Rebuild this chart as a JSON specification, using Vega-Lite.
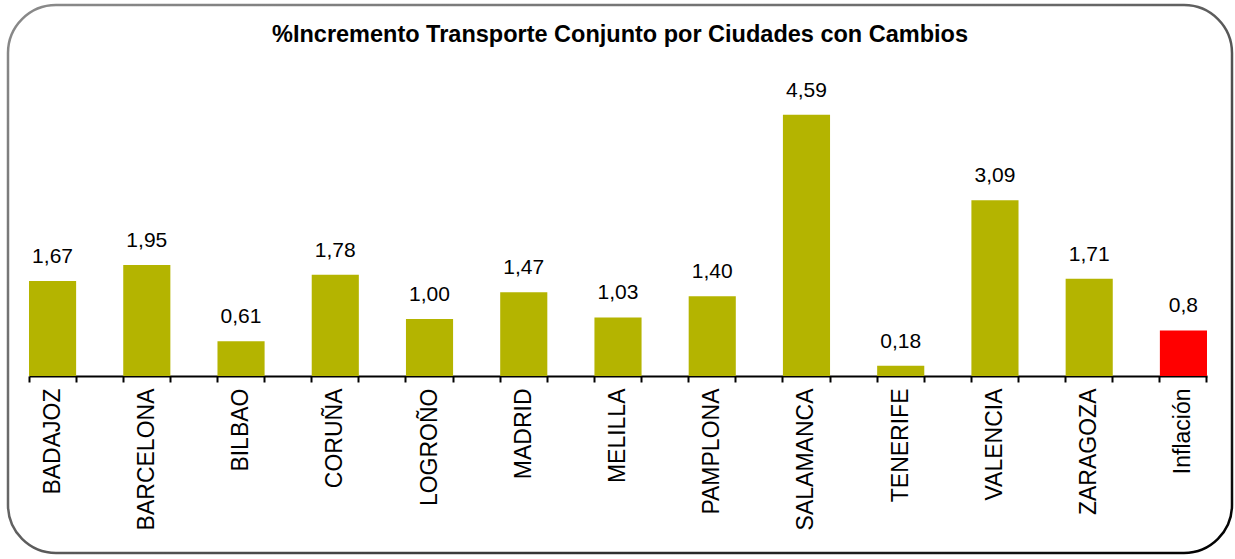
{
  "$schema": "https://vega.github.io/schema/vega-lite/v6.json",
  "width": 1224,
  "height": 548,
  "autosize": {"type": "none"},
  "padding": {"left": 8, "top": 5, "right": 3, "bottom": 6},
  "background": "white",
  "config": {
    "font": "Liberation Sans",
    "view": {
      "stroke": {
        "gradient": "linear",
        "x1": 0, "y1": 0, "x2": 1, "y2": 1,
        "stops": [
          {"offset": 0, "color": "#8a8a8a"},
          {"offset": 0.45, "color": "#666666"},
          {"offset": 1, "color": "#000000"}
        ]
      },
      "strokeWidth": 2.5,
      "cornerRadius": 48,
      "fill": "white"
    }
  },
  "title": {
    "text": "%Incremento Transporte Conjunto por Ciudades con Cambios",
    "font": "Liberation Sans",
    "fontSize": 23.5,
    "fontWeight": "bold",
    "color": "#000",
    "anchor": "middle",
    "frame": "group",
    "baseline": "top",
    "offset": -41
  },
  "data": {
    "values": [
      {"ciudad": "BADAJOZ", "valor": 1.67, "etiqueta": "1,67", "tipo": "ciudad"},
      {"ciudad": "BARCELONA", "valor": 1.95, "etiqueta": "1,95", "tipo": "ciudad"},
      {"ciudad": "BILBAO", "valor": 0.61, "etiqueta": "0,61", "tipo": "ciudad"},
      {"ciudad": "CORUÑA", "valor": 1.78, "etiqueta": "1,78", "tipo": "ciudad"},
      {"ciudad": "LOGROÑO", "valor": 1.00, "etiqueta": "1,00", "tipo": "ciudad"},
      {"ciudad": "MADRID", "valor": 1.47, "etiqueta": "1,47", "tipo": "ciudad"},
      {"ciudad": "MELILLA", "valor": 1.03, "etiqueta": "1,03", "tipo": "ciudad"},
      {"ciudad": "PAMPLONA", "valor": 1.40, "etiqueta": "1,40", "tipo": "ciudad"},
      {"ciudad": "SALAMANCA", "valor": 4.59, "etiqueta": "4,59", "tipo": "ciudad"},
      {"ciudad": "TENERIFE", "valor": 0.18, "etiqueta": "0,18", "tipo": "ciudad"},
      {"ciudad": "VALENCIA", "valor": 3.09, "etiqueta": "3,09", "tipo": "ciudad"},
      {"ciudad": "ZARAGOZA", "valor": 1.71, "etiqueta": "1,71", "tipo": "ciudad"},
      {"ciudad": "Inflación", "valor": 0.8, "etiqueta": "0,8", "tipo": "inflacion"}
    ]
  },
  "resolve": {"axis": {"x": "independent"}},
  "layer": [
    {
      "mark": {"type": "bar"},
      "encoding": {
        "x": {
          "field": "ciudad",
          "type": "nominal",
          "sort": null,
          "bandPosition": 0,
          "scale": {"range": [21, 1199], "paddingInner": 0.5, "paddingOuter": 0},
          "axis": {
            "title": null,
            "orient": "bottom",
            "offset": -177,
            "bandPosition": 0,
            "labelAngle": -90,
            "labelAlign": "right",
            "labelBaseline": "middle",
            "labelOffset": 0,
            "labelPadding": 6,
            "labelFont": "Liberation Sans",
            "labelFontSize": 23,
            "labelColor": "#000",
            "domainColor": "#000",
            "domainWidth": 2,
            "tickColor": "#000",
            "tickWidth": 2,
            "tickSize": 6,
            "grid": false
          }
        },
        "y": {
          "field": "valor",
          "type": "quantitative",
          "scale": {"domain": [-3.11, 6.52], "nice": false, "zero": false},
          "axis": null
        },
        "color": {
          "field": "tipo",
          "type": "nominal",
          "scale": {"domain": ["ciudad", "inflacion"], "range": ["#B4B400", "#FF0000"]},
          "legend": null
        }
      }
    },
    {
      "mark": {"type": "text", "baseline": "alphabetic", "dy": -18, "fontSize": 21, "font": "Liberation Sans", "color": "#000"},
      "encoding": {
        "x": {
          "field": "ciudad",
          "type": "nominal",
          "sort": null,
          "bandPosition": 0.5,
          "axis": {
            "title": null,
            "orient": "bottom",
            "offset": -177,
            "bandPosition": 1,
            "labels": false,
            "domain": false,
            "tickColor": "#000",
            "tickWidth": 2,
            "tickSize": 6,
            "grid": false
          }
        },
        "y": {"field": "valor", "type": "quantitative"},
        "text": {"field": "etiqueta"}
      }
    }
  ]
}
